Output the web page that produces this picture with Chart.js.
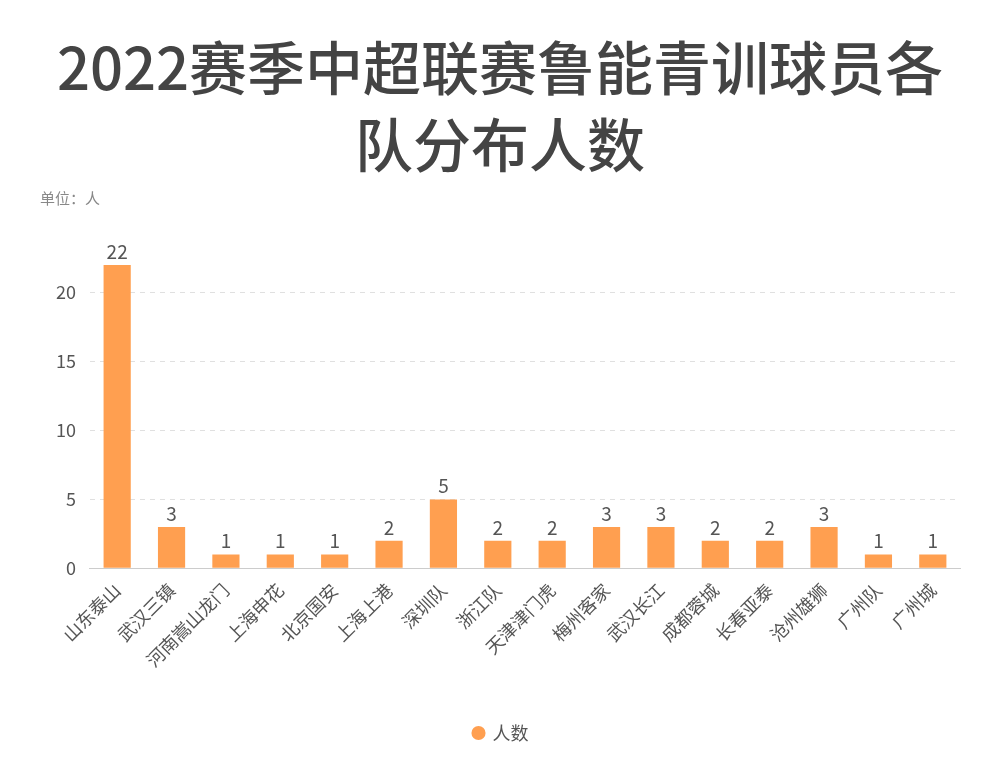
<!DOCTYPE html>
<html><head><meta charset="utf-8">
<script src="https://cdn.jsdelivr.net/npm/chart.js@4"></script>
<style>body{margin:0;background:#fff}#wrap{width:1000px;height:783px}</style>
</head><body><div id="wrap"><canvas id="c"></canvas></div>
<script>
const teams = ['山东泰山','武汉三镇','河南嵩山龙门','上海申花','北京国安','上海上港','深圳队','浙江队','天津津门虎','梅州客家','武汉长江','成都蓉城','长春亚泰','沧州雄狮','广州队','广州城'];
const players = [22,3,1,1,1,2,5,2,2,3,3,2,2,3,1,1];
const titleLines = ['2022赛季中超联赛鲁能青训球员各','队分布人数'];
const unitText = '单位：人';
const font = '"Noto Sans CJK SC", "Noto Sans", sans-serif';

const extras = {
  id: 'extras',
  afterDraw(chart) {
    const ctx = chart.ctx;
    ctx.save();
    ctx.fillStyle = '#444';
    ctx.font = '500 58px ' + font;
    ctx.textAlign = 'center';
    ctx.textBaseline = 'middle';
    ctx.fillText(titleLines[0], 500, 68);
    ctx.fillText(titleLines[1], 500, 145);
    ctx.font = '15px ' + font;
    ctx.fillStyle = '#888';
    ctx.textAlign = 'left';
    ctx.fillText(unitText, 40, 198);
    const meta = chart.getDatasetMeta(0);
    ctx.font = '19px ' + font;
    ctx.fillStyle = '#555';
    ctx.textAlign = 'center';
    ctx.textBaseline = 'bottom';
    meta.data.forEach((b, i) => ctx.fillText(players[i], b.x, b.y - 4));
    ctx.restore();
  }
};

new Chart(document.getElementById('c'), {
  type: 'bar',
  data: { labels: teams, datasets: [{ label: '人数', data: players, backgroundColor: '#FF9F50', barPercentage: 0.5, categoryPercentage: 1 }] },
  options: {
    responsive: true, maintainAspectRatio: false, animation: false,
    layout: { padding: { top: 265, left: 42, right: 40, bottom: 31 } },
    plugins: {
      legend: { position: 'bottom', labels: { usePointStyle: true, pointStyle: 'circle', boxWidth: 10, boxHeight: 10, color: '#555', font: { size: 18, family: font }, padding: 40 } },
      tooltip: { enabled: false }
    },
    scales: {
      x: { afterFit: s => { s.height += 10; },
           grid: { display: false }, border: { color: '#ccc' }, ticks: { color: '#555', font: { size: 18, family: font }, maxRotation: 45, minRotation: 45, autoSkip: false } },
      y: { min: 0, max: 22, afterBuildTicks: a => { a.ticks = [0,5,10,15,20].map(v => ({ value: v })); },
           grid: { color: '#e0e0e0', drawTicks: false }, border: { display: false, dash: [5,5] },
           ticks: { color: '#555', font: { size: 18, family: font }, padding: 14 } }
    }
  },
  plugins: [extras]
});
</script></body></html>
